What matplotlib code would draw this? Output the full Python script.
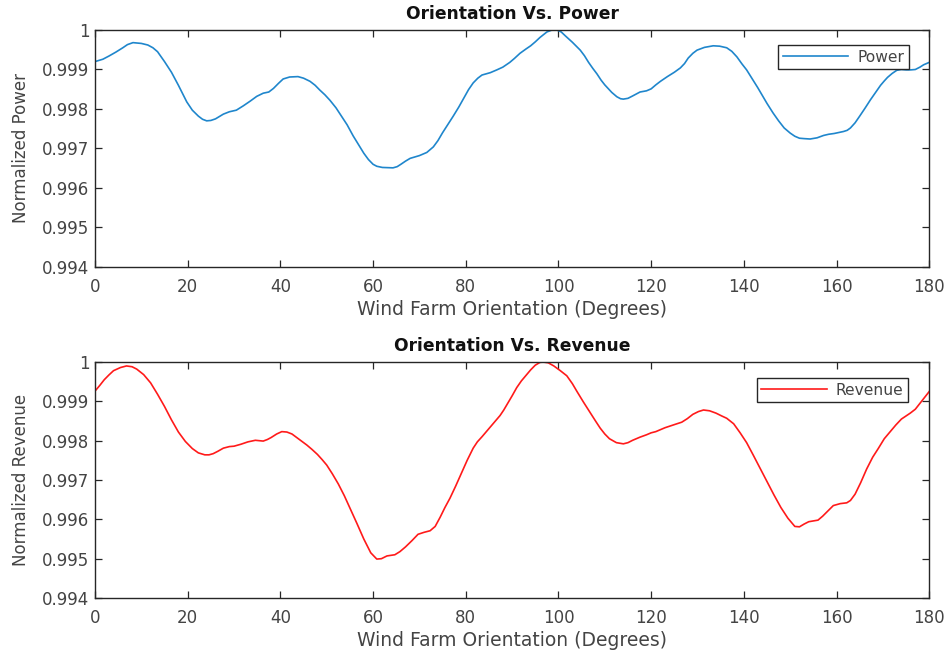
import matplotlib
matplotlib.use('Agg')
from matplotlib import pyplot as plt
from matplotlib.ticker import FixedLocator

plt.rcParams['font.family'] = ['DejaVu Sans']

# power curve
power_deg = [0, 1.7, 3, 4.5, 6, 7, 8.2, 10, 11.4, 12.5, 13.5, 15, 16.5, 18, 19.8,
             21, 22.3, 23.2, 24.1, 25, 26, 27.7, 29, 30.5, 32, 33.5, 34.9, 36.3,
             37.5, 38.5, 39.6, 40.6, 42, 43.8, 45, 46.4, 47.5, 48.5, 49.6, 50.7,
             52, 53, 54.4, 55.7, 57, 58, 59, 60, 60.8, 62, 64.3, 65.2, 66, 67,
             68, 70, 71.6, 73, 74, 75, 76.2, 77.3, 78.5, 79.5, 80.6, 81.6, 82.6,
             83.5, 85.3, 86.7, 88, 89.5, 90.5, 91.7, 93, 94, 95, 96, 97.5, 98.6,
             99.7, 100.6, 101.5, 103, 104.7, 105.6, 106.5, 107.4, 108.3, 109.2,
             110, 111.5, 112.6, 113.4, 114, 115, 116, 117.6, 119, 120, 121, 122,
             123.5, 125, 126.3, 127.2, 128, 129, 129.9, 131.5, 133.4, 134.8, 136.3,
             137.4, 138.5, 139.6, 140.6, 142, 143, 144, 145, 146.3, 147.5, 148.7,
             150, 151, 152, 153, 154.3, 155.8, 157.2, 158.3, 159.5, 161.5, 162.3,
             163, 164, 165, 166.2, 167.3, 168.5, 169.5, 170.3, 171, 172, 173, 174,
             175, 176, 177, 178, 178.8, 180]
power = [0.99920, 0.99926, 0.99934, 0.99944, 0.99955, 0.99963, 0.99968, 0.99966,
         0.99962, 0.99955, 0.99945, 0.99920, 0.99893, 0.99860, 0.99818, 0.99797,
         0.99782, 0.99774, 0.99770, 0.99771, 0.99775, 0.99787, 0.99793, 0.99797,
         0.99808, 0.99820, 0.99832, 0.99840, 0.99843, 0.99852, 0.99865, 0.99876,
         0.99881, 0.99882, 0.99878, 0.99870, 0.99860, 0.99848, 0.99836, 0.99822,
         0.99803, 0.99785, 0.99760, 0.99732, 0.99707, 0.99688, 0.99672, 0.99660,
         0.99655, 0.99652, 0.99651, 0.99654, 0.99660, 0.99668, 0.99675, 0.99682,
         0.99690, 0.99704, 0.99720, 0.99740, 0.99762, 0.99782, 0.99805, 0.99826,
         0.99849, 0.99866, 0.99878, 0.99886, 0.99892, 0.99899, 0.99906, 0.99918,
         0.99928, 0.99941, 0.99952, 0.99960, 0.99970, 0.99981, 0.99995, 1.00000,
         1.00000, 0.99995, 0.99985, 0.99969, 0.99949, 0.99935, 0.99918, 0.99903,
         0.99889, 0.99873, 0.99861, 0.99842, 0.99831, 0.99826, 0.99825, 0.99827,
         0.99833, 0.99843, 0.99846, 0.99851, 0.99861, 0.99870, 0.99882, 0.99893,
         0.99904, 0.99915, 0.99929, 0.99941, 0.99949, 0.99956, 0.99960, 0.99959,
         0.99955, 0.99946, 0.99932, 0.99914, 0.99899, 0.99873, 0.99854, 0.99834,
         0.99814, 0.99790, 0.99770, 0.99752, 0.99739, 0.99731, 0.99726, 0.99725,
         0.99724, 0.99727, 0.99733, 0.99736, 0.99738, 0.99743, 0.99746, 0.99752,
         0.99765, 0.99782, 0.99803, 0.99823, 0.99843, 0.99860, 0.99871, 0.99880,
         0.99890, 0.99898, 0.99900, 0.99899, 0.99899, 0.99900, 0.99906, 0.99912,
         0.99918]

# revenue curve
rev_deg = [0, 1, 2, 3, 4, 5.5, 6.8, 8, 9, 10.5, 12, 13.5, 15, 16.5, 18, 19.5,
           21, 22.3, 23.7, 24.6, 25.5, 26.5, 27.7, 29, 30, 31.5, 33, 34.6, 36.3,
           37.2, 38, 39.2, 40.3, 41.4, 42.5, 44, 45.7, 46.8, 48, 49, 50, 51.2,
           52.5, 53.8, 55, 56.5, 58, 59.5, 60.8, 61.8, 63, 64.7, 65.8, 67, 68.4,
           69.7, 71, 72.3, 73.4, 74.5, 75.5, 76.6, 77.8, 79, 80.3, 81.6, 82.5,
           83.5, 85.3, 86.3, 87.4, 88.2, 89, 90, 91, 92, 93, 94, 95, 96, 96.7,
           97.8, 99, 100.4, 101.8, 103, 104, 105.4, 106.8, 108, 109, 110, 111,
           112.5, 114, 115, 116, 117.6, 119, 120, 121, 122, 123, 124, 125.3,
           126.6, 127.8, 129, 130.2, 131.3, 132.6, 134, 135.2, 136.3, 137.8,
           139.2, 140.6, 142, 143.5, 145, 146.5, 148, 149.5, 151, 152, 153, 154,
           155, 156, 157, 158.2, 159.3, 160.8, 162.2, 163, 164, 165.2, 166.5,
           167.8, 169, 170.3, 171.6, 172.8, 174, 175, 175.9, 177, 178, 179, 180]
revenue = [0.99926, 0.99940, 0.99955, 0.99967, 0.99978, 0.99986, 0.99990, 0.99988,
           0.99982, 0.99968, 0.99947, 0.99918, 0.99887, 0.99853, 0.99822, 0.99798,
           0.99780, 0.99769, 0.99764, 0.99764, 0.99767, 0.99773, 0.99781, 0.99785,
           0.99786, 0.99791, 0.99797, 0.99801, 0.99799, 0.99803, 0.99808, 0.99817,
           0.99823, 0.99822, 0.99817, 0.99804, 0.99789, 0.99778, 0.99765, 0.99752,
           0.99738, 0.99716, 0.99690, 0.99660, 0.99629, 0.99590, 0.99550, 0.99515,
           0.99499, 0.99500, 0.99507, 0.99510, 0.99518, 0.99530, 0.99546, 0.99562,
           0.99567, 0.99571, 0.99582, 0.99606, 0.99630, 0.99654, 0.99684, 0.99716,
           0.99750, 0.99781, 0.99797, 0.99810, 0.99835, 0.99849, 0.99864, 0.99878,
           0.99894, 0.99914, 0.99935, 0.99952, 0.99966, 0.99980, 0.99992, 0.99999,
           1.00000, 0.99998, 0.99990, 0.99978, 0.99965, 0.99945, 0.99925, 0.99898,
           0.99872, 0.99850, 0.99832, 0.99817, 0.99805, 0.99795, 0.99792, 0.99795,
           0.99801, 0.99809, 0.99815, 0.99820, 0.99823, 0.99828, 0.99833, 0.99837,
           0.99842, 0.99847, 0.99856, 0.99867, 0.99874, 0.99878, 0.99876, 0.99870,
           0.99863, 0.99857, 0.99843, 0.99820, 0.99795, 0.99764, 0.99730, 0.99696,
           0.99662, 0.99630, 0.99603, 0.99582, 0.99581, 0.99588, 0.99594, 0.99596,
           0.99598, 0.99608, 0.99622, 0.99635, 0.99640, 0.99642, 0.99648, 0.99664,
           0.99693, 0.99728, 0.99758, 0.99780, 0.99805, 0.99823, 0.99840, 0.99855,
           0.99863, 0.99870, 0.99880, 0.99895, 0.99910, 0.99925]

xticks = list(range(0, 181, 20))
yticks = [0.994, 0.995, 0.996, 0.997, 0.998, 0.999, 1.0]
ytick_labels = ['0.994', '0.995', '0.996', '0.997', '0.998', '0.999', '1']

fig = plt.figure(figsize=(9.48, 6.55), dpi=100)
ax1 = fig.add_axes([0.1002, 0.5924, 0.880, 0.3618])
ax2 = fig.add_axes([0.1002, 0.0870, 0.880, 0.3603])

panels = [
    (ax1, power_deg, power, '#1f86cc', 'Power', 'Orientation Vs. Power',
     'Normalized Power', (0.976, 0.937)),
    (ax2, rev_deg, revenue, '#FF1a1a', 'Revenue', 'Orientation Vs. Revenue',
     'Normalized Revenue', (0.975, 0.932)),
]

grey = '#262626'
txt = '#444444'
for ax, xs, ys, col, name, title, ylab, anchor in panels:
    ax.plot(xs, ys, color=col, linewidth=1.2, label=name,
            solid_joinstyle='round')
    ax.set_xlim(0, 180)
    ax.set_ylim(0.994, 1.0)
    ax.xaxis.set_major_locator(FixedLocator(xticks))
    ax.set_yticks(yticks)
    ax.set_yticklabels(ytick_labels)
    ax.tick_params(direction='in', top=True, right=True, length=5, width=0.9,
                   colors=grey, labelcolor=txt, labelsize=12, pad=4)
    ax.tick_params(axis='x', pad=8)
    for sp in ax.spines.values():
        sp.set_color(grey)
        sp.set_linewidth(1.0)
    ax.set_title(title, fontsize=12.3, fontweight='bold', color='#111111', pad=8)
    ax.set_xlabel('Wind Farm Orientation (Degrees)', fontsize=13.5, color=txt,
                  labelpad=3)
    ax.set_ylabel(ylab, fontsize=12, color=txt, labelpad=9)
    leg = ax.legend(loc='upper right', bbox_to_anchor=anchor, fontsize=11.2,
                    fancybox=False, framealpha=1, borderpad=0.3,
                    handlelength=4.2, handletextpad=0.6, borderaxespad=0)
    leg.get_frame().set_edgecolor(grey)
    leg.get_frame().set_linewidth(1.0)
    for t in leg.get_texts():
        t.set_color(txt)

fig.savefig('out.png', dpi=100)
